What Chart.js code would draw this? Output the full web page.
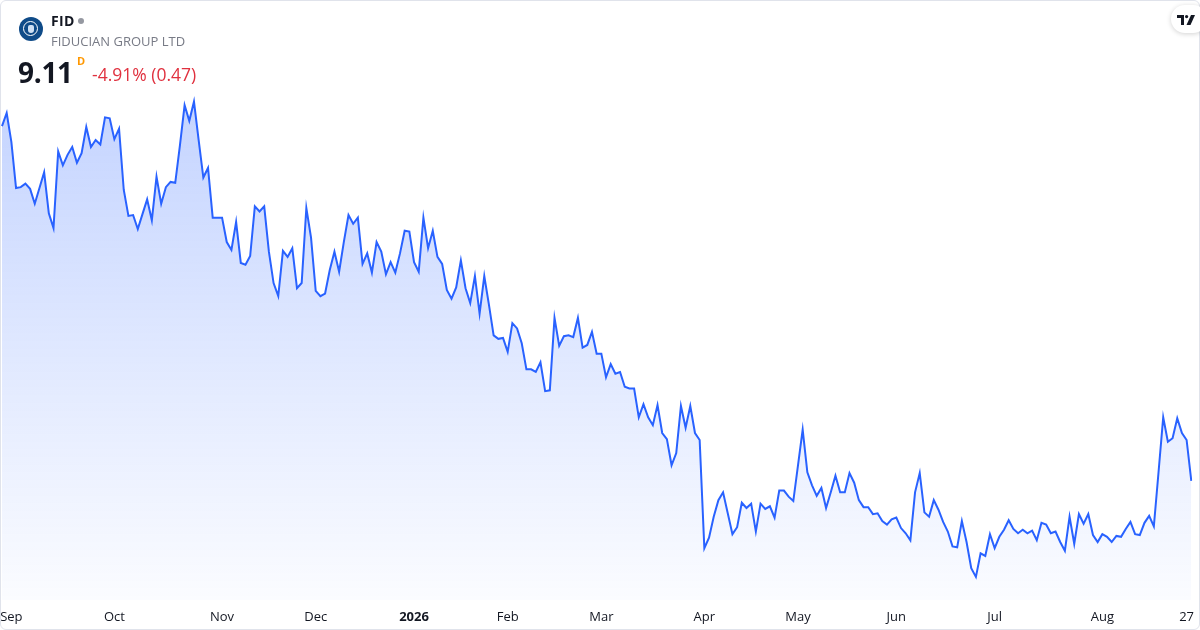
<!DOCTYPE html>
<html>
<head>
<meta charset="utf-8">
<script src="https://cdn.jsdelivr.net/npm/chart.js@4.4.1/dist/chart.umd.min.js"></script>
<style>
  html, body { margin: 0; padding: 0; background: #ffffff; }
  body { width: 1200px; height: 630px; overflow: hidden; position: relative; font-family: "Open Sans", "Noto Sans", sans-serif; }
  #c { position: absolute; left: 0; top: 0; }
  .frame { position: absolute; left: 0; top: 0; width: 1200px; height: 630px; box-sizing: border-box; border: 1px solid #e0e3eb; border-radius: 6px; pointer-events: none; }
  .logo { position: absolute; left: 19px; top: 17px; width: 24px; height: 24px; border-radius: 50%; background: #0f4b88; }
  .logo .ring { position: absolute; left: 4px; top: 4px; width: 13px; height: 13px; border-radius: 50%; border: 1.5px solid #ffffff; }
  .logo .core { position: absolute; left: 9px; top: 8px; width: 6px; height: 8px; border-radius: 2px 2px 3px 3px; background: #cfe0f3; }
  .sym { position: absolute; left: 51px; top: 11px; font-size: 14px; font-weight: 700; color: #131722; letter-spacing: 0.3px; }
  .dot { position: absolute; left: 78px; top: 18px; width: 6px; height: 6px; border-radius: 50%; background: #9598a1; }
  .name { position: absolute; left: 51px; top: 32px; font-size: 13px; color: #787b86; letter-spacing: 0px; }
  .price { position: absolute; left: 18px; top: 53px; font-size: 28px; font-weight: 700; color: #131722; letter-spacing: -0.3px; }
  .dflag { position: absolute; left: 77px; top: 53px; font-size: 11px; font-weight: 700; color: #ff9800; }
  .chg { position: absolute; left: 92px; top: 62px; font-size: 17.5px; color: #e0313f; }
  .tv { position: absolute; left: 1171px; top: 5px; width: 36px; height: 28px; border-radius: 14px; background: #ffffff; box-shadow: 0 1px 5px rgba(0,0,0,0.18); }
  .tv svg { position: absolute; left: 6px; top: 10px; }
</style>
</head>
<body>
<canvas id="c" width="1200" height="630"></canvas>
<div class="frame"></div>
<div class="logo"><div class="ring"></div><div class="core"></div></div>
<div class="sym">FID</div>
<div class="dot"></div>
<div class="name">FIDUCIAN GROUP LTD</div>
<div class="price">9.11</div>
<div class="dflag">D</div>
<div class="chg">-4.91% (0.47)</div>
<div class="tv"><svg width="18" height="10" viewBox="0 0 18 10"><path d="M0 0H7V10H4V3H0Z" fill="#131722"/><circle cx="9.6" cy="1.6" r="1.6" fill="#131722"/><path d="M14 0H18L13.5 10H9.5Z" fill="#131722"/></svg></div>
<script>
// ---- data ----
const startDate = '2025-08-28';
const endDate = '2026-08-28';
const holidays = ['2025-12-25', '2025-12-26', '2026-01-01', '2026-01-26', '2026-04-03', '2026-04-06', '2026-06-08'];
const monthLabels = ['2026', 'Feb', 'Mar', 'Apr', 'May', 'Jun', 'Jul', 'Aug', 'Sep', 'Oct', 'Nov', 'Dec'];
const lastDayLabel = '27';

const pricesSep = [13.18, 13.33, 13.00, 12.47, 12.48, 12.52, 12.46, 12.29, 12.47, 12.65, 12.18, 12.01, 12.89, 12.73, 12.85, 12.94,
  12.76, 12.87, 13.17, 12.94, 13.02, 12.97, 13.28, 13.27];
const pricesOct = [13.03, 13.15, 12.45, 12.15, 12.16, 12.00, 12.17, 12.34, 12.10, 12.60, 12.29, 12.48, 12.54, 12.53, 12.96, 13.42,
  13.24, 13.46, 13.02, 12.59, 12.70, 12.13, 12.13];
const pricesNov = [12.13, 11.85, 11.76, 12.08, 11.61, 11.59, 11.69, 12.26, 12.20, 12.26, 11.74, 11.38, 11.23, 11.75, 11.68, 11.78,
  11.32, 11.38, 12.24, 11.90];
const pricesDec = [11.29, 11.23, 11.26, 11.53, 11.74, 11.51, 11.85, 12.16, 12.06, 12.13, 11.60, 11.72, 11.50, 11.85, 11.74, 11.48,
  11.62, 11.50, 11.72, 11.98, 11.97];
const pricesJan = [11.62, 11.51, 12.13, 11.78, 11.98, 11.68, 11.60, 11.30, 11.20, 11.33, 11.64, 11.32, 11.15, 11.46, 11.03, 11.46,
  11.13, 10.78, 10.74, 10.75];
const pricesFeb = [10.59, 10.92, 10.86, 10.69, 10.39, 10.39, 10.36, 10.47, 10.14, 10.15, 10.98, 10.66, 10.77, 10.78, 10.76, 10.98,
  10.64, 10.67, 10.82, 10.57];
const pricesMar = [10.57, 10.30, 10.45, 10.34, 10.36, 10.19, 10.17, 10.17, 9.84, 9.99, 9.84, 9.75, 9.98, 9.66, 9.59, 9.29,
  9.43, 9.97, 9.72, 9.97, 9.66, 9.58];
const pricesApr = [8.34, 8.46, 8.70, 8.89, 8.98, 8.74, 8.50, 8.58, 8.86, 8.80, 8.85, 8.53, 8.85, 8.79, 8.82, 8.69,
  9.00, 9.00, 8.93, 8.88];
const pricesMay = [9.29, 9.70, 9.21, 9.06, 8.94, 9.03, 8.80, 8.98, 9.17, 8.98, 8.98, 9.20, 9.09, 8.89, 8.81, 8.81,
  8.73, 8.74, 8.65, 8.61, 8.67];
const pricesJun = [8.69, 8.57, 8.51, 8.43, 8.98, 9.20, 8.75, 8.70, 8.89, 8.78, 8.64, 8.53, 8.36, 8.35, 8.65, 8.41,
  8.11, 8.01, 8.28, 8.25, 8.50];
const pricesJul = [8.34, 8.47, 8.55, 8.66, 8.56, 8.51, 8.55, 8.51, 8.54, 8.43, 8.63, 8.61, 8.51, 8.53, 8.41, 8.31,
  8.70, 8.39, 8.73, 8.62, 8.73, 8.49, 8.41];
const pricesAug = [8.50, 8.47, 8.41, 8.48, 8.47, 8.56, 8.64, 8.50, 8.49, 8.63, 8.71, 8.59, 9.21, 9.84, 9.56, 9.60,
  9.83, 9.66, 9.58, 9.11];

const yMin = 7.745;
const yMax = 14.626;

// ---- build ----
const prices = [].concat(pricesSep, pricesOct, pricesNov, pricesDec, pricesJan, pricesFeb, pricesMar,
  pricesApr, pricesMay, pricesJun, pricesJul, pricesAug);

function iso(d) { return d.toISOString().slice(0, 10); }
const dates = [];
for (let d = new Date(startDate + 'T00:00:00Z'); iso(d) <= endDate; d.setUTCDate(d.getUTCDate() + 1)) {
  const wd = d.getUTCDay();
  if (wd === 0 || wd === 6) continue;
  if (holidays.includes(iso(d))) continue;
  dates.push(iso(d));
}
const n = Math.min(dates.length, prices.length);
const labels = dates.slice(0, n);
const values = prices.slice(0, n);

function tickText(i) {
  const d = labels[i];
  if (i === n - 2) return lastDayLabel;
  if (i === 0) return '';
  const m = +d.slice(5, 7), pm = +labels[i - 1].slice(5, 7);
  if (m !== pm) return monthLabels[(m - 1)];
  return '';
}

const ctx = document.getElementById('c').getContext('2d');
new Chart(ctx, {
  type: 'line',
  data: {
    labels: labels,
    datasets: [{
      data: values,
      borderColor: '#2962ff',
      borderWidth: 2,
      pointRadius: 0,
      tension: 0,
      fill: 'start',
      backgroundColor: (c) => {
        const area = c.chart.chartArea;
        if (!area) return 'rgba(41,98,255,0.2)';
        const g = c.chart.ctx.createLinearGradient(0, area.top + 90, 0, area.bottom);
        g.addColorStop(0, 'rgba(41,98,255,0.28)');
        g.addColorStop(1, 'rgba(41,98,255,0.02)');
        return g;
      }
    }]
  },
  options: {
    responsive: false,
    animation: false,
    devicePixelRatio: 1,
    layout: { padding: { left: 2, right: 8.7, top: 0, bottom: 0 } },
    plugins: { legend: { display: false }, tooltip: { enabled: false } },
    scales: {
      x: {
        type: 'category',
        offset: false,
        border: { display: false },
        grid: { display: false, drawTicks: false },
        afterFit: (s) => { s.height = 30; s.paddingLeft = 0; s.paddingRight = 0; },
        ticks: {
          autoSkip: false,
          maxRotation: 0,
          minRotation: 0,
          padding: 9,
          color: '#131722',
          font: (c) => ({ family: '"Open Sans", sans-serif', size: 13, weight: (c.tick && c.tick.label === '2026') ? 'bold' : 'normal' }),
          callback: (v, i) => tickText(i)
        }
      },
      y: { display: false, min: yMin, max: yMax }
    }
  }
});
</script>
</body>
</html>
